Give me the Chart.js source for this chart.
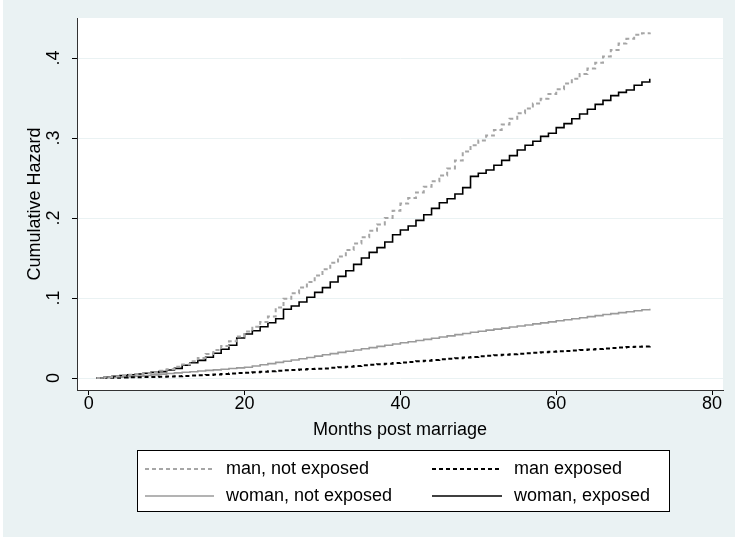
<!DOCTYPE html>
<html>
<head>
<meta charset="utf-8">
<script src="https://cdn.jsdelivr.net/npm/chart.js@4.4.1/dist/chart.umd.min.js"></script>
<style>
  html, body { margin: 0; padding: 0; background: #ffffff; }
  #wrap { position: relative; width: 735px; height: 540px; }
  canvas { display: block; }
</style>
</head>
<body>
<div id="wrap"><canvas id="c" width="735" height="540"></canvas></div>
<script>
// Months since marriage at which the cumulative hazard is evaluated
const months = [1,2,3,4,5,6,7,8,9,10,11,12,13,14,15,16,17,18,19,20,21,22,23,24,
  25,26,27,28,29,30,31,32,33,34,35,36,37,38,39,40,41,42,43,44,45,46,47,48,
  49,50,51,52,53,54,55,56,57,58,59,60,61,62,63,64,65,66,67,68,69,70,71,72];

// Nelson–Aalen cumulative hazard per group
const manNotExposed = [0.000,0.001,0.002,0.003,0.004,0.005,0.006,0.007,0.009,0.011,0.014,0.017,
  0.021,0.025,0.030,0.035,0.040,0.046,0.052,0.058,0.064,0.070,0.077,0.088,
  0.099,0.106,0.113,0.120,0.128,0.136,0.144,0.152,0.160,0.168,0.176,0.184,
  0.192,0.200,0.209,0.218,0.225,0.232,0.239,0.246,0.253,0.262,0.272,0.283,
  0.291,0.297,0.303,0.310,0.317,0.324,0.331,0.337,0.343,0.349,0.355,0.361,
  0.368,0.374,0.380,0.387,0.394,0.402,0.410,0.418,0.424,0.429,0.431,0.432];

const manExposed = [0.0000,0.0002,0.0004,0.0006,0.0008,0.0010,0.0012,0.0014,0.0016,0.0018,0.0022,0.0026,
  0.0030,0.0034,0.0038,0.0043,0.0049,0.0055,0.0061,0.0067,0.0072,0.0078,0.0084,0.0090,
  0.0096,0.0101,0.0106,0.0111,0.0115,0.0120,0.0127,0.0134,0.0141,0.0150,0.0158,0.0165,
  0.0172,0.0179,0.0186,0.0193,0.0201,0.0209,0.0217,0.0225,0.0233,0.0240,0.0248,0.0256,
  0.0264,0.0272,0.0279,0.0285,0.0291,0.0297,0.0303,0.0309,0.0315,0.0321,0.0327,0.0333,
  0.0339,0.0345,0.0351,0.0357,0.0363,0.0369,0.0375,0.0381,0.0386,0.0391,0.0395,0.0398];

const womanNotExposed = [0.0000,0.0003,0.0006,0.0010,0.0017,0.0024,0.0031,0.0039,0.0048,0.0057,0.0064,0.0071,
  0.0079,0.0087,0.0095,0.0102,0.0110,0.0118,0.0126,0.0135,0.0150,0.0165,0.0180,0.0195,
  0.0210,0.0225,0.0240,0.0257,0.0273,0.0290,0.0305,0.0320,0.0335,0.0350,0.0365,0.0380,
  0.0395,0.0410,0.0425,0.0440,0.0454,0.0468,0.0483,0.0497,0.0512,0.0527,0.0542,0.0556,
  0.0571,0.0585,0.0598,0.0611,0.0624,0.0637,0.0650,0.0663,0.0676,0.0689,0.0702,0.0715,
  0.0728,0.0741,0.0754,0.0767,0.0780,0.0793,0.0805,0.0817,0.0829,0.0841,0.0853,0.0865];

const womanExposed = [0.000,0.001,0.002,0.003,0.004,0.005,0.006,0.007,0.008,0.010,0.012,0.016,
  0.019,0.022,0.026,0.031,0.036,0.041,0.050,0.055,0.059,0.064,0.069,0.074,
  0.086,0.090,0.095,0.101,0.107,0.113,0.120,0.127,0.134,0.142,0.150,0.157,
  0.163,0.170,0.179,0.185,0.190,0.197,0.204,0.212,0.219,0.224,0.230,0.238,
  0.252,0.256,0.260,0.266,0.272,0.278,0.285,0.291,0.296,0.302,0.306,0.313,
  0.318,0.324,0.330,0.336,0.342,0.347,0.353,0.357,0.360,0.366,0.370,0.374];

const seriesLabels = ['man, not exposed', 'man exposed', 'woman, not exposed', 'woman, exposed'];
const xTickValues = [0, 20, 40, 60, 80];
const yTickValues = [0, 0.1, 0.2, 0.3, 0.4];
const yTickLabels = ['0', '.1', '.2', '.3', '.4'];
const xTitle = 'Months post marriage';
const yTitle = 'Cumulative Hazard';

const FONT = '"Liberation Sans", Arial, Helvetica, sans-serif';
const FONT_SIZE = 18;
const BG = '#EAF2F3';

function toPoints(values) {
  return months.map((m, i) => ({ x: m, y: values[i] }));
}

const datasets = [
  { label: seriesLabels[0], data: toPoints(manNotExposed), borderColor: '#A6A6A6', borderWidth: 2, borderDash: [4, 3] },
  { label: seriesLabels[1], data: toPoints(manExposed), borderColor: '#000000', borderWidth: 2, borderDash: [4, 3] },
  { label: seriesLabels[2], data: toPoints(womanNotExposed), borderColor: '#9A9A9A', borderWidth: 1.6, borderDash: [] },
  { label: seriesLabels[3], data: toPoints(womanExposed), borderColor: '#000000', borderWidth: 1.6, borderDash: [] }
].map(d => Object.assign(d, { stepped: true, pointRadius: 0, fill: false, tension: 0 }));

// Paints the outer graph region and the white plot region
const backdrop = {
  id: 'backdrop',
  beforeDraw(chart) {
    const { ctx, chartArea: a } = chart;
    ctx.save();
    ctx.fillStyle = '#ffffff';
    ctx.fillRect(0, 0, chart.width, chart.height);
    ctx.fillStyle = BG;
    ctx.fillRect(3, 0, chart.width - 3, chart.height - 3);
    ctx.fillStyle = '#ffffff';
    ctx.fillRect(a.left, a.top, a.right - a.left, a.bottom - a.top);
    ctx.restore();
  }
};

// Boxed two-column legend below the x-axis title
const boxLegend = {
  id: 'boxLegend',
  afterDraw(chart) {
    const { ctx } = chart;
    const box = { x: 137.5, y: 450.5, w: 532, h: 61 };
    ctx.save();
    ctx.fillStyle = '#ffffff';
    ctx.fillRect(box.x, box.y, box.w, box.h);
    ctx.strokeStyle = '#000000';
    ctx.lineWidth = 1;
    ctx.strokeRect(box.x, box.y, box.w, box.h);
    const cols = [{ x0: 145, x1: 214, tx: 226 }, { x0: 432, x1: 502, tx: 514 }];
    const rows = [469, 496];
    ctx.font = FONT_SIZE + 'px ' + FONT;
    ctx.textBaseline = 'middle';
    ctx.textAlign = 'left';
    chart.data.datasets.forEach((ds, i) => {
      const c = cols[i % 2], y = rows[Math.floor(i / 2)];
      ctx.beginPath();
      ctx.setLineDash(ds.borderDash || []);
      ctx.strokeStyle = ds.borderColor;
      ctx.lineWidth = ds.borderWidth;
      ctx.moveTo(c.x0, y);
      ctx.lineTo(c.x1, y);
      ctx.stroke();
      ctx.setLineDash([]);
      ctx.fillStyle = '#000000';
      ctx.fillText(ds.label, c.tx, y);
    });
    ctx.restore();
  }
};

new Chart(document.getElementById('c'), {
  type: 'line',
  data: { datasets },
  plugins: [backdrop, boxLegend],
  options: {
    responsive: false,
    animation: false,
    devicePixelRatio: 1,
    layout: { padding: { top: 18, right: 12, bottom: 99, left: 0 } },
    plugins: { legend: { display: false }, tooltip: { enabled: false } },
    font: { family: FONT, size: FONT_SIZE },
    scales: {
      x: {
        type: 'linear',
        min: -1.5,
        max: 81.4,
        afterBuildTicks(scale) { scale.ticks = xTickValues.map(v => ({ value: v })); },
        afterFit(scale) { scale.height = 51; scale.paddingLeft = 0; scale.paddingRight = 0; },
        grid: { drawOnChartArea: false, drawTicks: true, tickLength: 5, tickColor: '#000000', tickWidth: 1 },
        border: { color: '#333333', width: 1 },
        ticks: { color: '#000000', padding: -2, maxRotation: 0, font: { family: FONT, size: FONT_SIZE } },
        title: { display: true, text: xTitle, color: '#000000', padding: 0, font: { family: FONT, size: FONT_SIZE } }
      },
      y: {
        type: 'linear',
        min: -0.015,
        max: 0.45,
        afterBuildTicks(scale) { scale.ticks = yTickValues.map(v => ({ value: v })); },
        afterFit(scale) { scale.width = 77; scale.paddingTop = 0; scale.paddingBottom = 0; },
        grid: { color: BG, lineWidth: 1, drawTicks: true, tickLength: 5, tickColor: '#000000', tickWidth: 1 },
        border: { color: '#333333', width: 1 },
        ticks: {
          color: '#000000',
          minRotation: 90,
          maxRotation: 90,
          crossAlign: 'center',
          padding: 10,
          font: { family: FONT, size: FONT_SIZE },
          callback(value) {
            const i = yTickValues.findIndex(v => Math.abs(v - value) < 1e-9);
            return i >= 0 ? yTickLabels[i] : '';
          }
        },
        title: { display: true, text: yTitle, color: '#000000', padding: { top: 24, bottom: 0 }, font: { family: FONT, size: FONT_SIZE } }
      }
    }
  }
});
</script>
</body>
</html>
